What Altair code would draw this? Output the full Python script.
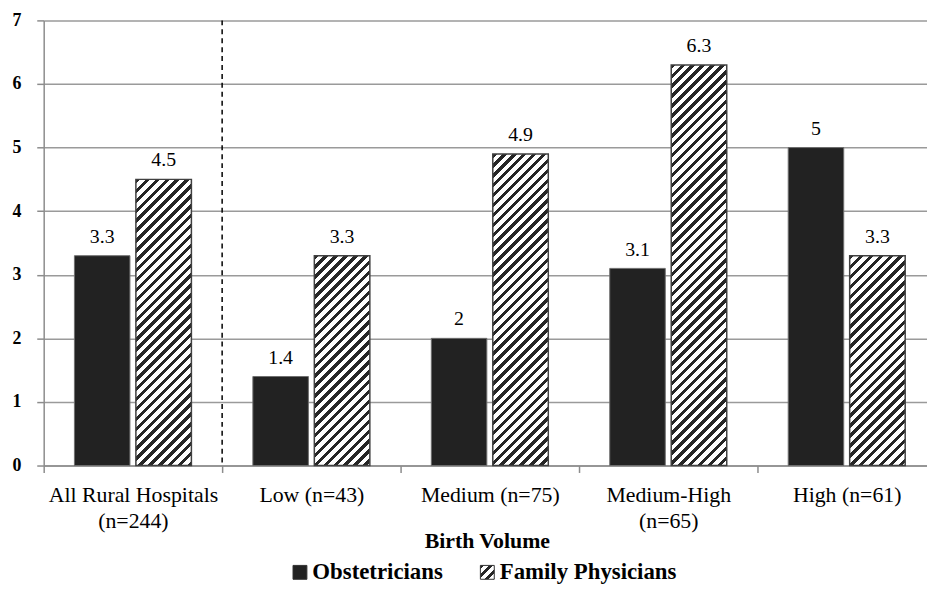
import altair as alt
import pandas as pd

# ---- data ----
categories = ["All Rural Hospitals\n(n=244)", "Low (n=43)", "Medium (n=75)",
              "Medium-High\n(n=65)", "High (n=61)"]
series = ["Obstetricians", "Family Physicians"]
obstetricians = [3.3, 1.4, 2, 3.1, 5]
family_physicians = [4.5, 3.3, 4.9, 6.3, 3.3]

rows = []
for c, o, f in zip(categories, obstetricians, family_physicians):
    rows.append({"cat": c, "series": series[0], "value": o})
    rows.append({"cat": c, "series": series[1], "value": f})
df = pd.DataFrame(rows)

FONT = "'Liberation Serif', 'Times New Roman', 'DejaVu Serif', serif"
PLOT_H = 449
Y_MAX = 7
BAR_W = 56
DARK = "#262626"


def hatch_stops(w, h, period=10.0, frac=0.45):
    dt = period / (w + h)
    stops = []
    k = 0
    while k * dt < 1:
        a = k * dt
        b = min(a + frac * dt, 1)
        e = min((k + 1) * dt, 1)
        stops += [{"offset": a, "color": DARK}, {"offset": b, "color": DARK},
                  {"offset": b, "color": "white"}, {"offset": e, "color": "white"}]
        k += 1
    return stops


def hatch(w, h, period=10.0, frac=0.45):
    c = (w + h) / (w * w + h * h)
    return {"gradient": "linear", "x1": 0, "y1": 0, "x2": w * c, "y2": h * c,
            "stops": hatch_stops(w, h, period, frac)}


# hatch for the legend symbol (14x14 square) as an expression
leg_stops = hatch_stops(14, 14, period=9.0, frac=0.45)
stop_txt = ",".join("{offset:%.4f,color:'%s'}" % (s["offset"], s["color"]) for s in leg_stops)
legend_hatch_expr = "{gradient:'linear',x1:0,y1:0,x2:1,y2:1,stops:[%s]}" % stop_txt

x_enc = alt.X(
    "cat:N", sort=categories,
    scale=alt.Scale(range=[0, 900], paddingInner=0, paddingOuter=0),
    axis=alt.Axis(
        title="Birth Volume", labelExpr="split(datum.label, '\\n')", labelAngle=0,
        labelFont=FONT, labelFontSize=22, labelColor="black", labelLineHeight=27,
        labelPadding=12, labelLimit=300, labelOverlap=False,
        tickSize=7, tickBand="extent", tickColor="#8c8c8c", tickWidth=1.5,
        domainColor="#8c8c8c", domainWidth=1.5, grid=False,
        titleFont=FONT, titleFontSize=22, titleFontWeight="bold", titleColor="black",
        titleBaseline="alphabetic", titleY=83, titleX=447,
    ),
)
xoff_enc = alt.XOffset("series:N", sort=series,
                       scale=alt.Scale(domain=series, paddingInner=6 / 62, paddingOuter=0.5))
y_enc = alt.Y(
    "value:Q", scale=alt.Scale(domain=[0, Y_MAX], nice=False),
    axis=alt.Axis(
        values=list(range(0, 8)), format="d", title=None,
        labelFont=FONT, labelFontSize=18, labelFontWeight="bold", labelColor="black",
        labelPadding=16, tickSize=7, tickColor="#8c8c8c", tickWidth=1.5,
        domainColor="#8c8c8c", domainWidth=1.5,
        gridColor="#9a9a9a", gridWidth=1.5,
    ),
)

base = alt.Chart(df)

black_bars = base.transform_filter(alt.datum.series == series[0]).mark_bar(
    stroke="#6e6e6e", strokeWidth=1
).encode(
    x=x_enc, xOffset=xoff_enc, y=y_enc,
    color=alt.Color(
        "series:N",
        scale=alt.Scale(domain=series, range=["#222222", {"expr": legend_hatch_expr}]),
        legend=alt.Legend(
            orient="none", legendX=247, legendY=545, direction="horizontal", title=None,
            symbolType="square", symbolSize=196, symbolStrokeColor="#333333",
            symbolStrokeWidth=1, symbolOpacity=1,
            labelFont=FONT, labelFontSize=23, labelFontWeight="bold", labelColor="black",
            labelOffset=1, columnPadding=33, labelLimit=400,
        ),
    ),
)

layers = [black_bars]
for c, v in zip(categories, family_physicians):
    h = v * PLOT_H / Y_MAX
    layers.append(
        base.transform_filter((alt.datum.series == series[1]) & (alt.datum.cat == c))
        .mark_bar(fill=hatch(BAR_W, h), stroke="#404040", strokeWidth=1.5)
        .encode(x=x_enc, xOffset=xoff_enc, y=y_enc)
    )

labels = base.mark_text(font=FONT, fontSize=20, color="black", baseline="alphabetic", dy=-13).encode(
    x=x_enc, xOffset=xoff_enc, y=y_enc, text=alt.Text("value:Q", format=".1~f")
)

divider = base.transform_filter(
    (alt.datum.cat == categories[1]) & (alt.datum.series == series[0])
).mark_rule(color="black", strokeDash=[5, 4], strokeWidth=1.5).encode(
    x=alt.X("cat:N", sort=categories, bandPosition=0)
)

chart = alt.layer(*layers, labels, divider).properties(
    width=891, height=PLOT_H,
    autosize=alt.AutoSizeParams(type="none"),
    padding={"left": 36, "top": 10, "right": 0, "bottom": 119},
    background="white",
).configure_view(stroke=None)

chart.save("out.html", embed_options={"renderer": "svg", "actions": False})
